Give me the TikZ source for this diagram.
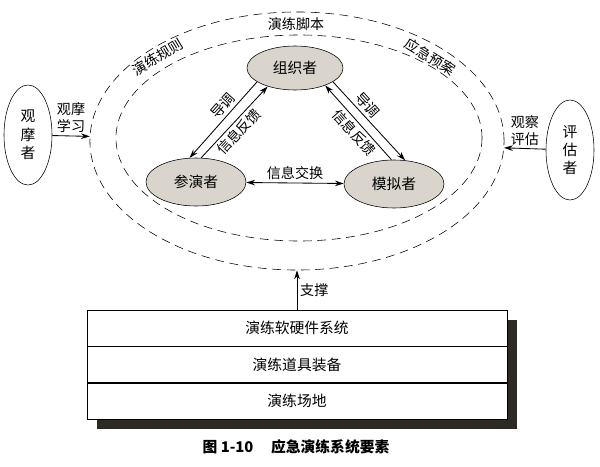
\documentclass[tikz,border=0pt]{standalone}
\usepackage{fontspec}
\setmainfont{Noto Sans CJK SC}
\usepackage{xcolor}
\usepackage{tikz}
\usetikzlibrary{shapes.geometric, positioning, arrows.meta, calc, backgrounds}
\definecolor{rolefill}{RGB}{218,213,204}
\definecolor{shadowgray}{RGB}{45,41,36}

\begin{document}
\begin{tikzpicture}[
        x=0.025cm, y=-0.025cm,
        role/.style={draw, ellipse, fill=rolefill, minimum width=2.5cm, minimum height=1.2cm, inner sep=0pt, font=\fontsize{10.5}{12}\selectfont},
        viewer/.style={draw, ellipse, fill=white, minimum width=1.2cm, minimum height=2.5cm, inner sep=0pt, align=center, font=\fontsize{10.5}{13}\selectfont},
        ring/.style={draw, ellipse, dash pattern=on 2.2mm off 1.4mm, inner sep=0pt},
        layer/.style={draw, rectangle, fill=white, minimum width=10.5cm, minimum height=0.9cm, font=\fontsize{10.5}{12}\selectfont},
        lbl/.style={font=\fontsize{10}{12}\selectfont, inner sep=2pt},
        arr/.style={-{Stealth[length=2.2mm, width=1.4mm]}, semithick},
        dbl/.style={{Stealth[length=2.2mm, width=1.4mm]}-{Stealth[length=2.2mm, width=1.4mm]}, semithick}
    ]
    \useasboundingbox (0,0) rectangle (600,467);

    % dashed rings
    \node[ring, minimum width=10.35cm, minimum height=6.45cm] (outer) at (297,141) {};
    \node[ring, minimum width=9.15cm, minimum height=5.15cm] (inner) at (299,138) {};
    \node[lbl] (jb) at (296,24) {演练脚本};
    \node[lbl, rotate=31] (gz) at (158,57) {演练规则};
    \node[lbl, rotate=-32] (ya) at (430,57) {应急预案};

    % roles
    \node[role, minimum width=2.4cm, minimum height=1.1cm] (org) at (295,68) {组织者};
    \node[role] (cy) at (196,182) {参演者};
    \node[role] (msz) at (394,184) {模拟者};
    \node[viewer] (gmz) at (28,135) {观\\摩\\者};
    \node[viewer] (pgz) at (570,150) {评\\估\\者};

    % role links
    \draw[arr] (org.200) -- (cy.105) node[lbl, pos=0.4, sloped, above] {导调};
    \draw[arr] (cy.78) -- (org.214) node[lbl, pos=0.46, sloped, below] {信息反馈};
    \draw[arr] (msz.96) -- (org.330) node[lbl, pos=0.45, sloped, below] {信息反馈};
    \draw[arr] (org.340) -- (msz.65) node[lbl, pos=0.38, sloped, above] {导调};
    \draw[dbl] (cy) -- (msz) node[lbl, midway, above] {信息交换};

    % outside observers
    \draw[arr] (gmz) -- (outer) node[lbl, midway, above, align=center] {观摩\\学习};
    \draw[arr] (pgz) -- (outer) node[lbl, midway, above, align=center] {观察\\评估};

    % support layers
    \node[layer] (hw) at (297,328) {演练软硬件系统};
    \node[layer, below=0pt of hw] (dj) {演练道具装备};
    \node[layer, below=0pt of dj] (cd) {演练场地};
    \begin{scope}[on background layer]
        \fill[shadowgray] ([shift={(10,10)}]hw.north west) rectangle ([shift={(10,10)}]cd.south east);
    \end{scope}
    \draw[arr] (hw.north) -- (outer.south) node[lbl, midway, right] {支撑};

    \node[font=\bfseries\fontsize{10.5}{12}\selectfont] (cap) at (296,447) {图 1-10\hspace{1.2em}应急演练系统要素};

\end{tikzpicture}
\end{document}
